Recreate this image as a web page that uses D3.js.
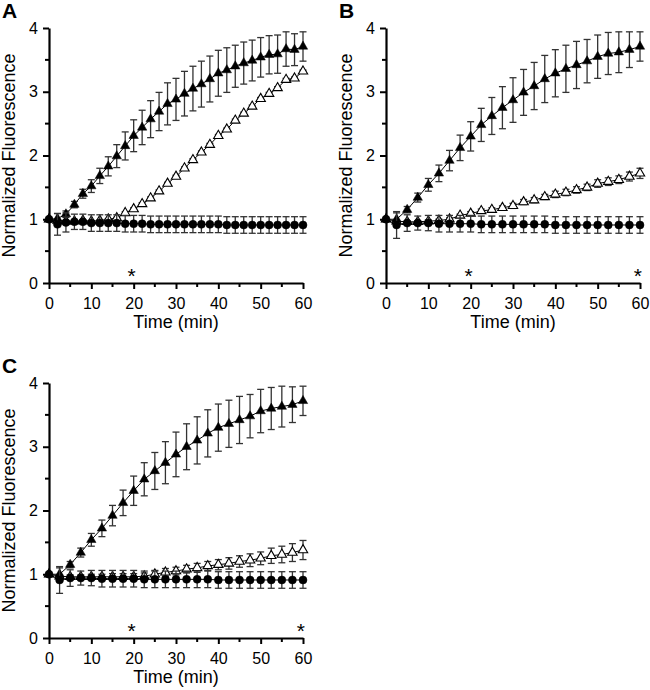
<!DOCTYPE html>
<html>
<head>
<meta charset="utf-8">
<script src="https://cdn.jsdelivr.net/npm/d3@7"></script>
<style>
  html, body { margin: 0; padding: 0; background: #fff; }
  svg { display: block; font-family: "Liberation Sans", Arial, Helvetica, sans-serif; }
</style>
</head>
<body>
<svg id="chart" width="650" height="690"></svg>
<script>
// ---------- DATA ----------
const timeA = d3.range(0, 61, 2);      // 0..60 step 2
const timeBC = d3.range(0, 60.1, 2.5); // 0..60 step 2.5

const xTicks = [0, 10, 20, 30, 40, 50, 60];
const yTicks = [0, 1, 2, 3, 4];

// Panel A
const A_filled = [1.00,1.01,1.08,1.23,1.40,1.52,1.68,1.83,1.99,2.15,2.31,2.44,2.57,2.69,2.81,2.88,2.97,3.05,3.12,3.20,3.29,3.34,3.40,3.45,3.49,3.54,3.58,3.59,3.67,3.66,3.71];
const A_filledErr = [0,0.08,0.05,0.05,0.07,0.10,0.12,0.15,0.18,0.22,0.25,0.27,0.29,0.30,0.33,0.33,0.35,0.35,0.36,0.36,0.36,0.35,0.33,0.33,0.32,0.31,0.30,0.30,0.27,0.25,0.23];
const A_open = [1.00,0.98,0.97,0.97,0.98,0.97,0.98,1.00,1.02,1.10,1.16,1.24,1.33,1.44,1.56,1.67,1.80,1.93,2.05,2.17,2.31,2.41,2.55,2.66,2.77,2.89,2.97,3.06,3.19,3.21,3.32];
const A_openErr = [0,0.01,0.01,0.01,0.01,0.01,0.01,0.01,0.01,0.02,0.02,0.02,0.02,0.02,0.02,0.02,0.02,0.02,0.02,0.02,0.02,0.02,0.02,0.02,0.02,0.02,0.02,0.02,0.02,0.02,0.02];
const A_circle = [1.00,0.92,0.95,0.96,0.96,0.94,0.94,0.94,0.94,0.93,0.93,0.93,0.92,0.92,0.92,0.92,0.92,0.92,0.92,0.92,0.92,0.91,0.91,0.91,0.91,0.91,0.91,0.91,0.91,0.91,0.91];
const A_circleErr = [0,0.17,0.15,0.12,0.12,0.13,0.13,0.13,0.13,0.13,0.13,0.13,0.13,0.13,0.13,0.13,0.13,0.13,0.13,0.13,0.13,0.13,0.13,0.13,0.13,0.13,0.13,0.13,0.13,0.13,0.13];
const A_stars = [[19.5, 0.19]];

// Panel B
const B_filled = [1.00,1.00,1.15,1.34,1.54,1.72,1.92,2.12,2.30,2.48,2.62,2.75,2.87,2.99,3.09,3.20,3.29,3.36,3.42,3.48,3.55,3.60,3.62,3.66,3.71];
const B_filledErr = [0,0.10,0.05,0.07,0.10,0.13,0.16,0.20,0.23,0.26,0.29,0.33,0.35,0.36,0.37,0.37,0.37,0.37,0.37,0.34,0.34,0.33,0.32,0.28,0.23];
const B_open = [1.00,0.97,0.96,0.96,0.97,0.98,1.00,1.06,1.09,1.13,1.15,1.18,1.21,1.27,1.30,1.35,1.39,1.42,1.46,1.50,1.56,1.59,1.62,1.67,1.72];
const B_openErr = [0,0.01,0.01,0.01,0.02,0.02,0.02,0.02,0.03,0.03,0.03,0.03,0.04,0.04,0.04,0.04,0.05,0.05,0.05,0.05,0.06,0.06,0.06,0.07,0.08];
const B_circle = [1.00,0.91,0.94,0.94,0.94,0.93,0.93,0.93,0.93,0.92,0.92,0.92,0.92,0.92,0.92,0.92,0.91,0.91,0.91,0.91,0.91,0.91,0.91,0.91,0.91];
const B_circleErr = [0,0.21,0.13,0.11,0.12,0.13,0.13,0.13,0.13,0.13,0.13,0.13,0.13,0.13,0.13,0.13,0.13,0.13,0.13,0.13,0.13,0.13,0.13,0.13,0.13];
const B_stars = [[19.5, 0.19], [59.5, 0.19]];

// Panel C
const C_filled = [1.00,1.00,1.15,1.34,1.54,1.72,1.92,2.12,2.31,2.49,2.62,2.75,2.88,3.00,3.10,3.21,3.30,3.36,3.42,3.48,3.56,3.60,3.63,3.66,3.72];
const C_filledErr = [0,0.10,0.05,0.07,0.10,0.13,0.16,0.20,0.23,0.26,0.29,0.33,0.35,0.36,0.37,0.37,0.37,0.37,0.37,0.34,0.34,0.33,0.32,0.28,0.23];
const C_open = [1.00,0.97,0.96,0.96,0.96,0.96,0.96,0.96,0.96,0.97,1.00,1.03,1.05,1.08,1.10,1.13,1.15,1.17,1.20,1.22,1.25,1.29,1.31,1.34,1.38];
const C_openErr = [0,0.02,0.03,0.03,0.04,0.04,0.05,0.05,0.05,0.05,0.06,0.06,0.06,0.06,0.07,0.07,0.08,0.09,0.09,0.10,0.10,0.12,0.13,0.14,0.15];
const C_circle = [1.00,0.91,0.94,0.94,0.94,0.93,0.93,0.93,0.93,0.92,0.92,0.92,0.92,0.92,0.92,0.92,0.91,0.91,0.91,0.91,0.91,0.91,0.91,0.91,0.91];
const C_circleErr = [0,0.21,0.13,0.11,0.12,0.13,0.13,0.13,0.13,0.13,0.13,0.13,0.13,0.13,0.13,0.13,0.13,0.13,0.13,0.13,0.13,0.13,0.13,0.13,0.13];
const C_stars = [[19.5, 0.19], [59.5, 0.19]];

const panels = [
  { label: "A", left: 49, top: 28, time: timeA,
    filled: A_filled, filledErr: A_filledErr, open: A_open, openErr: A_openErr,
    circle: A_circle, circleErr: A_circleErr, stars: A_stars },
  { label: "B", left: 386, top: 28, time: timeBC,
    filled: B_filled, filledErr: B_filledErr, open: B_open, openErr: B_openErr,
    circle: B_circle, circleErr: B_circleErr, stars: B_stars },
  { label: "C", left: 49, top: 383, time: timeBC,
    filled: C_filled, filledErr: C_filledErr, open: C_open, openErr: C_openErr,
    circle: C_circle, circleErr: C_circleErr, stars: C_stars }
];

// ---------- DRAW ----------
const W = 254, H = 255;
const svg = d3.select("#chart");

panels.forEach(p => {
  const g = svg.append("g").attr("transform", `translate(${p.left},${p.top})`);
  const x = d3.scaleLinear().domain([0, 60]).range([0, W]);
  const y = d3.scaleLinear().domain([0, 4]).range([H, 0]);

  // panel letter
  g.append("text").attr("x", -47).attr("y", -10)
    .attr("font-size", 21).attr("font-weight", "bold").text(p.label);

  // minor ticks
  const minorX = d3.range(5, 60, 10);
  const minorY = d3.range(0.5, 4, 1);
  g.append("g").selectAll("line").data(minorX).join("line")
    .attr("x1", d => x(d)).attr("x2", d => x(d))
    .attr("y1", H).attr("y2", H + 4)
    .attr("stroke", "#000").attr("stroke-width", 2);
  g.append("g").selectAll("line").data(minorY).join("line")
    .attr("y1", d => y(d)).attr("y2", d => y(d))
    .attr("x1", 0).attr("x2", -4)
    .attr("stroke", "#000").attr("stroke-width", 2);

  // axes
  const xa = g.append("g").attr("transform", `translate(0,${H})`)
    .call(d3.axisBottom(x).tickValues(xTicks).tickFormat(d3.format("d"))
      .tickSize(6).tickPadding(9).tickSizeOuter(0));
  const ya = g.append("g")
    .call(d3.axisLeft(y).tickValues(yTicks).tickFormat(d3.format("d"))
      .tickSize(6).tickPadding(5).tickSizeOuter(0));
  [xa, ya].forEach(a => {
    a.select(".domain").attr("stroke-width", 2.2);
    a.selectAll(".tick line").attr("stroke-width", 2);
    a.selectAll(".tick text").attr("font-size", 16)
      .attr("font-family", '"Liberation Sans", Arial, sans-serif').attr("fill", "#000");
  });

  // axis titles
  g.append("text").attr("x", W / 2).attr("y", H + 45)
    .attr("text-anchor", "middle").attr("font-size", 18).text("Time (min)");
  g.append("text")
    .attr("transform", `translate(-34,${H / 2}) rotate(-90)`)
    .attr("text-anchor", "middle").attr("font-size", 18).text("Normalized Fluorescence");

  const series = [
    { vals: p.open, err: p.openErr, type: "open" },
    { vals: p.filled, err: p.filledErr, type: "filled" },
    { vals: p.circle, err: p.circleErr, type: "circle" }
  ];

  const line = d3.line().x(d => x(d.t)).y(d => y(d.v));
  series.forEach(s => {
    const data = p.time.map((t, i) => ({ t, v: s.vals[i], e: s.err[i] }));
    // connecting line
    g.append("path").datum(data).attr("d", line)
      .attr("fill", "none").attr("stroke", "#000").attr("stroke-width", 1);
    // error bars
    const eb = g.append("g").attr("stroke", "#333").attr("stroke-width", 1.3);
    data.filter(d => d.e > 0).forEach(d => {
      const cx = x(d.t), y1 = y(d.v + d.e), y2 = y(d.v - d.e);
      eb.append("line").attr("x1", cx).attr("x2", cx).attr("y1", y1).attr("y2", y2);
      eb.append("line").attr("x1", cx - 3.5).attr("x2", cx + 3.5).attr("y1", y1).attr("y2", y1);
      eb.append("line").attr("x1", cx - 3.5).attr("x2", cx + 3.5).attr("y1", y2).attr("y2", y2);
    });
    // markers
    const sym = s.type === "circle" ? d3.symbol(d3.symbolCircle, 50) : d3.symbol(d3.symbolTriangle, 38);
    g.append("g").selectAll("path").data(data).join("path")
      .attr("d", sym)
      .attr("transform", d => `translate(${x(d.t)},${y(d.v)})`)
      .attr("fill", s.type === "open" ? "#fff" : "#000")
      .attr("stroke", "#000").attr("stroke-width", s.type === "open" ? 1.1 : 0.5);
  });

  // asterisks
  g.append("g").selectAll("text").data(p.stars).join("text")
    .attr("x", d => x(d[0])).attr("y", d => y(d[1]) + 12)
    .attr("text-anchor", "middle").attr("font-size", 21).text("*");
});
</script>
</body>
</html>
